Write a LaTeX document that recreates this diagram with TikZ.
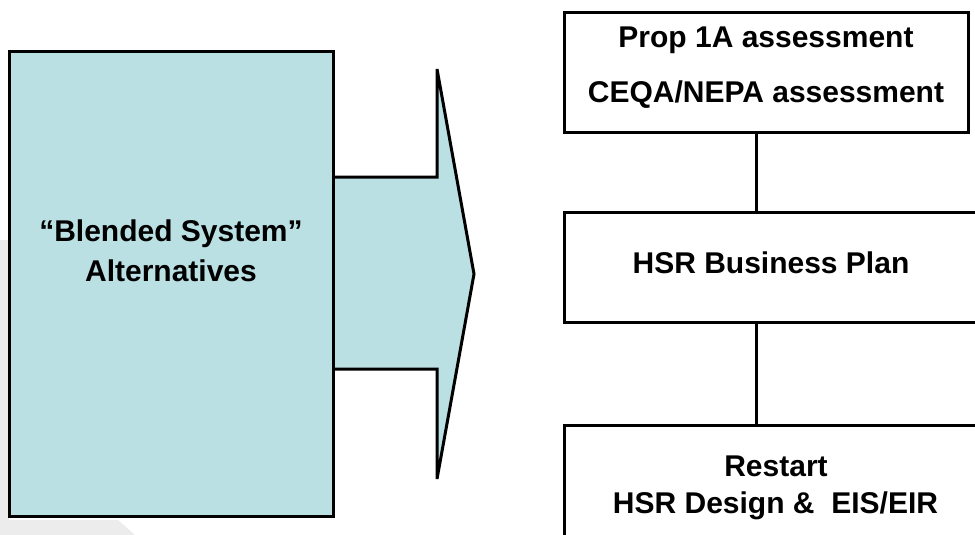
\documentclass[tikz,border=0pt]{standalone}
\usepackage{fontspec}
\setmainfont{Liberation Sans}
\definecolor{tealfill}{RGB}{186,224,227}
\definecolor{bggray}{RGB}{236,236,236}
\begin{document}
\begin{tikzpicture}[x=1pt,y=-1pt,
  lbl/.style={font=\fontsize{30}{36}\selectfont\bfseries, anchor=base, inner sep=0pt},
  boxst/.style={draw=black, line width=3pt, inner sep=0pt, rectangle},
  conn/.style={draw=black, line width=3pt}]
\useasboundingbox (0,0) rectangle (975,535);
% faint background decoration
\fill[bggray] (0,240) -- (9,240) -- (9,520) -- (118,520) -- (135,535) -- (0,535) -- cycle;
% arrow fill
\fill[tealfill] (333,177) -- (437,177) -- (437,69) -- (474,274) -- (437,479) -- (437,369) -- (333,369) -- cycle;
% left box
\node[boxst, fill=tealfill, minimum width=324pt, minimum height=464pt] (alt) at (171,284) {};
% arrow outline
\draw[line width=3pt, line join=miter] (alt.east |- 0,177) -- (437,177) -- (437,69) -- (474,274) -- (437,479) -- (437,369) -- (alt.east |- 0,369);
\node[lbl] (t1) at (171,241.5) {“Blended System”};
\node[lbl] (t2) at (171,281.5) {Alternatives};
% right boxes
\node[boxst, minimum width=404pt, minimum height=119pt] (b1) at (766,72.5) {};
\node[boxst, minimum width=418pt, minimum height=110pt] (b2) at (773,267) {};
\node[boxst, minimum width=418pt, minimum height=135pt] (b3) at (773,492.5) {};
\node[lbl] (p1) at (766,48) {Prop 1A assessment};
\node[lbl] (p2) at (766,102.5) {CEQA/NEPA assessment};
\node[lbl] (p3) at (771,273) {HSR Business Plan};
\node[lbl] (p4) at (776,476) {Restart};
\node[lbl] (p5) at (775.5,513.5) {HSR Design \&\ \ EIS/EIR};
% connectors
\coordinate (cx) at (756,0);
\draw[conn] (b1.south -| cx) -- (b2.north -| cx);
\draw[conn] (b2.south -| cx) -- (b3.north -| cx);
\end{tikzpicture}
\end{document}
